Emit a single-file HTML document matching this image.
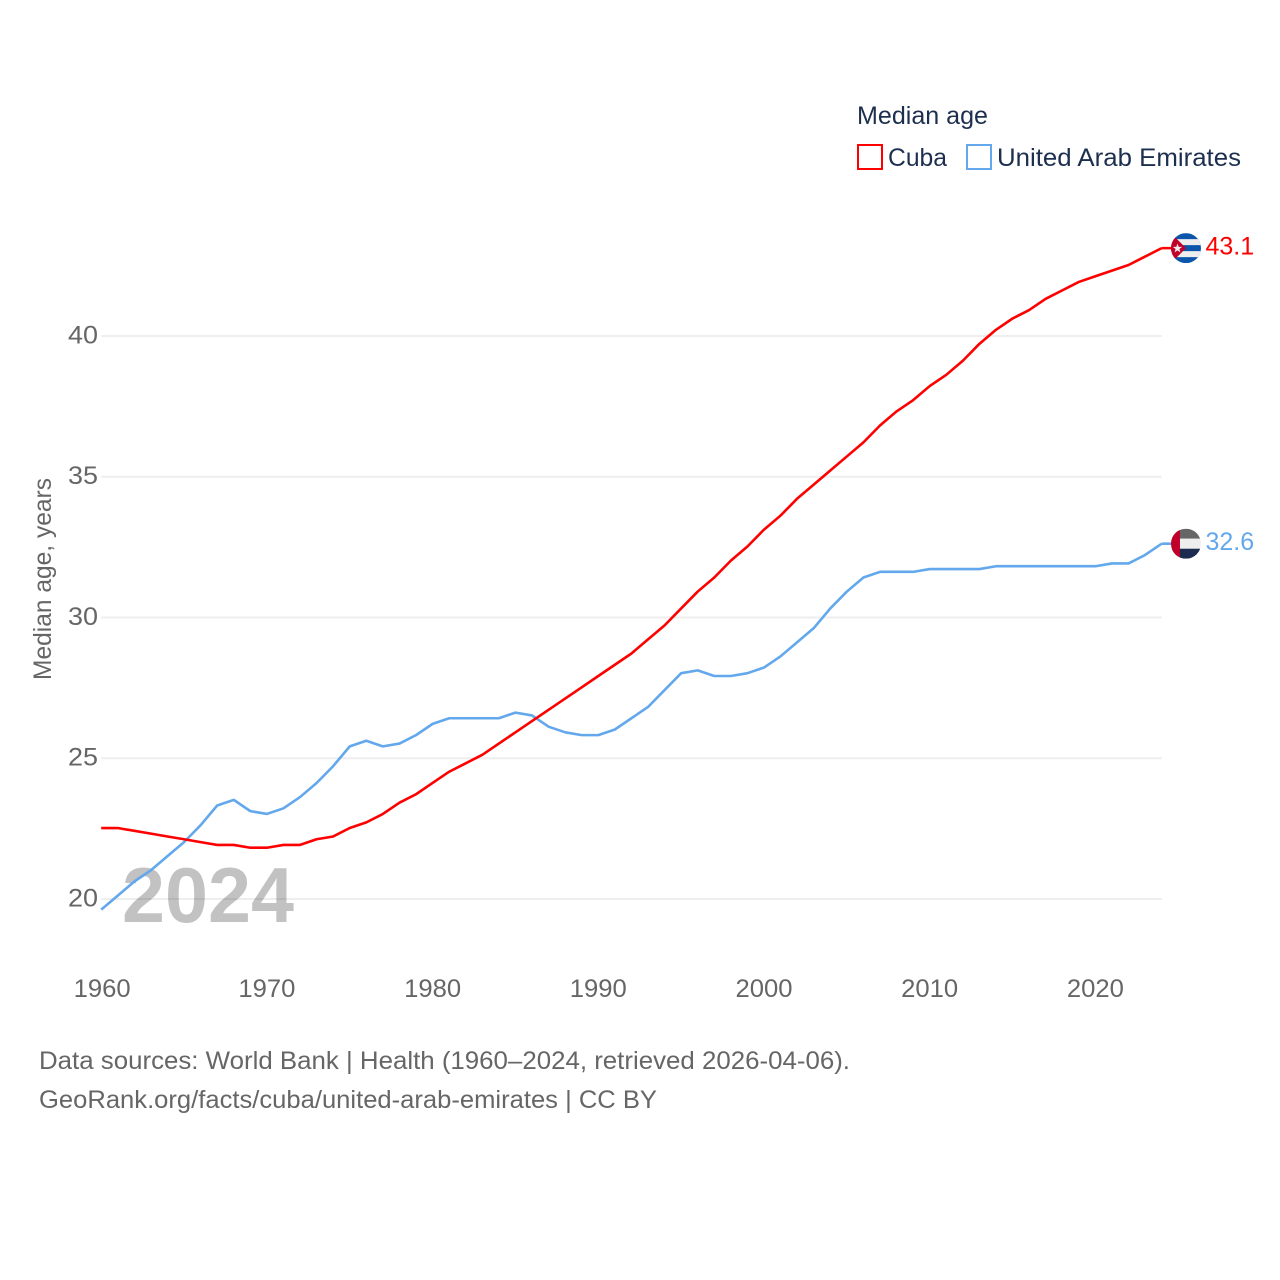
<!DOCTYPE html>
<html lang="en">
<head>
<meta charset="utf-8">
<title>Median age: Cuba and United Arab Emirates</title>
<style>
html,body{margin:0;padding:0;background:#fff;}
svg{display:block;font-family:"Liberation Sans",Arial,sans-serif;}
</style>
</head>
<body>
<svg id="chart" xmlns="http://www.w3.org/2000/svg" width="1280" height="1280" viewBox="0 0 1280 1280">
  <defs>
    <clipPath id="clip-flag-cuba"><circle id="cuba-clip-circle" cx="0" cy="0" r="15"></circle></clipPath>
    <clipPath id="clip-flag-uae"><circle id="uae-clip-circle" cx="0" cy="0" r="15"></circle></clipPath>
  </defs>
  <rect x="0" y="0" width="1280" height="1280" fill="#ffffff"></rect>

  <g>
    <text x="857" y="124" font-size="25" fill="#1d2f4f" textLength="131" lengthAdjust="spacingAndGlyphs">Median age</text>
    <rect x="858" y="145" width="24" height="24" fill="none" stroke="#ff0000" stroke-width="2"></rect>
    <text x="888" y="166" font-size="25" fill="#1d2f4f" textLength="59" lengthAdjust="spacingAndGlyphs">Cuba</text>
    <rect x="967" y="145" width="24" height="24" fill="none" stroke="#63a8ec" stroke-width="2"></rect>
    <text x="997" y="166" font-size="25" fill="#1d2f4f" textLength="244" lengthAdjust="spacingAndGlyphs">United Arab Emirates</text>
  </g>

  <g id="grid"></g>
  <text x="122" y="922" font-size="78" font-weight="700" fill="#000000" fill-opacity="0.24" textLength="172" lengthAdjust="spacingAndGlyphs">2024</text>
  <g id="y-axis"></g>
  <g id="x-axis"></g>
  <text transform="translate(51 680) rotate(-90)" font-size="25" fill="#666666" textLength="202" lengthAdjust="spacingAndGlyphs">Median age, years</text>
  <g id="series"></g>

  <g id="flag-cuba">
    <g clip-path="url(#clip-flag-cuba)">
      <rect x="-15" y="-15" width="30" height="30" fill="#0b55ab"></rect>
      <rect x="-15" y="-9" width="30" height="6" fill="#eeeeee"></rect>
      <rect x="-15" y="3" width="30" height="6" fill="#eeeeee"></rect>
      <polygon points="-15,-15 0,0 -15,15" fill="#c0002a"></polygon>
      <polygon points="-8.5,-4.5 -7.3,-1.2 -3.8,-1.2 -6.6,0.9 -5.6,4.2 -8.5,2.2 -11.4,4.2 -10.4,0.9 -13.2,-1.2 -9.7,-1.2" fill="#eeeeee"></polygon>
    </g>
  </g>
  <g id="flag-uae">
    <g clip-path="url(#clip-flag-uae)">
      <rect x="-15" y="-15" width="30" height="10" fill="#666666"></rect>
      <rect x="-15" y="-5" width="30" height="10" fill="#eeeeee"></rect>
      <rect x="-15" y="5" width="30" height="10" fill="#1a2b4f"></rect>
      <rect x="-15" y="-15" width="9" height="30" fill="#c0002a"></rect>
    </g>
  </g>
  <g id="value-labels"></g>

  <g>
    <text x="39" y="1069" font-size="25" fill="#666666" textLength="811" lengthAdjust="spacingAndGlyphs">Data sources: World Bank | Health (1960–2024, retrieved 2026-04-06).</text>
    <text x="39" y="1108" font-size="25" fill="#666666" textLength="618" lengthAdjust="spacingAndGlyphs">GeoRank.org/facts/cuba/united-arab-emirates | CC BY</text>
  </g>
</svg>
<script>
var years = [1960,1961,1962,1963,1964,1965,1966,1967,1968,1969,1970,1971,1972,1973,1974,1975,1976,1977,1978,1979,1980,1981,1982,1983,1984,1985,1986,1987,1988,1989,1990,1991,1992,1993,1994,1995,1996,1997,1998,1999,2000,2001,2002,2003,2004,2005,2006,2007,2008,2009,2010,2011,2012,2013,2014,2015,2016,2017,2018,2019,2020,2021,2022,2023,2024];
var cubaValues = [22.5,22.5,22.4,22.3,22.2,22.1,22.0,21.9,21.9,21.8,21.8,21.9,21.9,22.1,22.2,22.5,22.7,23.0,23.4,23.7,24.1,24.5,24.8,25.1,25.5,25.9,26.3,26.7,27.1,27.5,27.9,28.3,28.7,29.2,29.7,30.3,30.9,31.4,32.0,32.5,33.1,33.6,34.2,34.7,35.2,35.7,36.2,36.8,37.3,37.7,38.2,38.6,39.1,39.7,40.2,40.6,40.9,41.3,41.6,41.9,42.1,42.3,42.5,42.8,43.1];
var uaeValues = [19.6,20.1,20.6,21.0,21.5,22.0,22.6,23.3,23.5,23.1,23.0,23.2,23.6,24.1,24.7,25.4,25.6,25.4,25.5,25.8,26.2,26.4,26.4,26.4,26.4,26.6,26.5,26.1,25.9,25.8,25.8,26.0,26.4,26.8,27.4,28.0,28.1,27.9,27.9,28.0,28.2,28.6,29.1,29.6,30.3,30.9,31.4,31.6,31.6,31.6,31.7,31.7,31.7,31.7,31.8,31.8,31.8,31.8,31.8,31.8,31.8,31.9,31.9,32.2,32.6];
var yTicks = [20,25,30,35,40];
var xTicks = [1960,1970,1980,1990,2000,2010,2020];

var NS = 'http://www.w3.org/2000/svg';
function xScale(year) { return 101.2 + (year - 1960) * 16.57; }
function yScale(value) { return 898.4 - (value - 20) * 28.15; }
function make(tag, parent, attrs) {
  var el = document.createElementNS(NS, tag);
  for (var k in attrs) { el.setAttribute(k, attrs[k]); }
  parent.appendChild(el);
  return el;
}

var gridGroup = document.getElementById('grid');
var yAxisGroup = document.getElementById('y-axis');
var xAxisGroup = document.getElementById('x-axis');
var seriesGroup = document.getElementById('series');
var valueGroup = document.getElementById('value-labels');

yTicks.forEach(function (t) {
  var gy = yScale(t) + 0.6;
  var line = make('line', gridGroup, {x1: 101.2, x2: xScale(2024), y1: gy, y2: gy, stroke: '#eeeeee', 'stroke-width': 2});
  
  
  var label = make('text', yAxisGroup, {x: 98, y: yScale(t) + 8, 'text-anchor': 'end', 'font-size': 25, fill: '#666666', textLength: 30, lengthAdjust: 'spacingAndGlyphs'});
  
  
  label.textContent = String(t);
});

xTicks.forEach(function (t) {
  var label = make('text', xAxisGroup, {x: xScale(t) + (t === 1960 ? 1 : 0), y: 997, 'text-anchor': 'middle', 'font-size': 25, fill: '#666666', textLength: 57, lengthAdjust: 'spacingAndGlyphs'});
  
  
  label.textContent = String(t);
});

function drawSeries(values, color, key, flagId) {
  var pts = values.map(function (v, i) { return xScale(years[i]).toFixed(2) + ',' + yScale(v).toFixed(2); });
  var lastY = yScale(values[values.length - 1]);
  var lastX = xScale(years[years.length - 1]);
  var flagX = lastX + 24.3;
  var path = make('polyline', seriesGroup, {points: pts.join(' '), fill: 'none', stroke: color, 'stroke-width': 2.6, 'stroke-linejoin': 'round'});
  
  
  var connector = make('line', seriesGroup, {x1: lastX, x2: flagX, y1: lastY, y2: lastY, stroke: color, 'stroke-width': 2.6});
  
  
  document.getElementById(flagId).setAttribute('transform', 'translate(' + flagX + ' ' + lastY + ')');
  var label = make('text', valueGroup, {x: flagX + 19.5, y: lastY + 6.5, 'font-size': 25, fill: color});
  
  
  label.textContent = values[values.length - 1].toFixed(1);
}

drawSeries(uaeValues, '#63a8ec', 'uae', 'flag-uae');
drawSeries(cubaValues, '#ff0000', 'cuba', 'flag-cuba');
</script>
</body>
</html>
